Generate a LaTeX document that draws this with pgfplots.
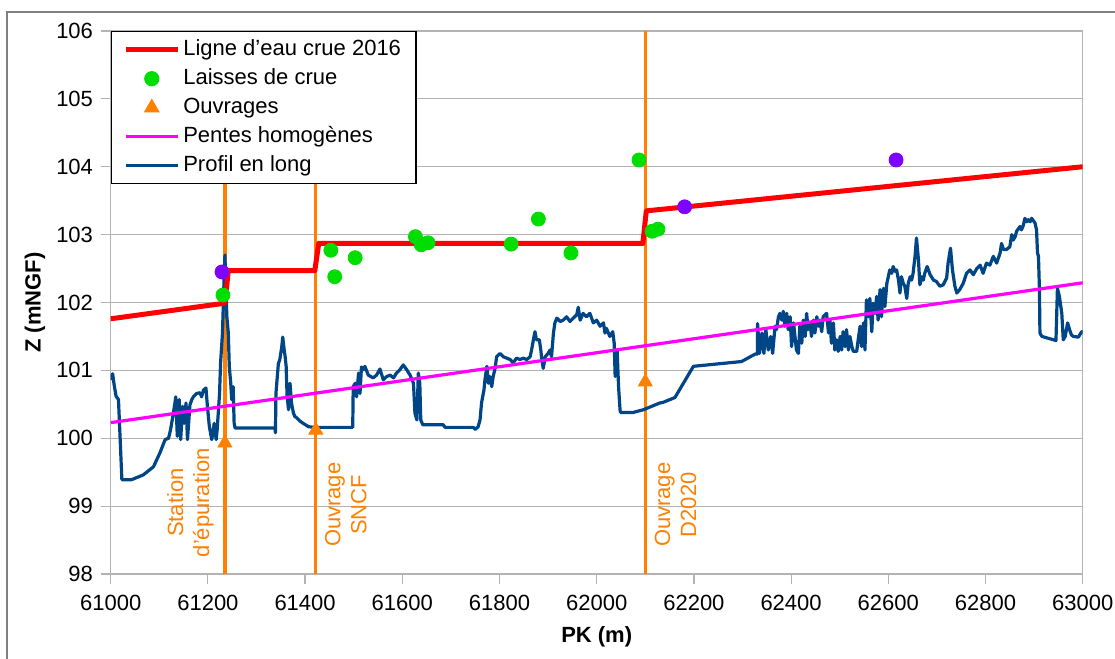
\documentclass[border=0pt]{standalone}
\usepackage{fontspec}
\setmainfont{Liberation Sans}
\usepackage{pgfplots}
\pgfplotsset{compat=1.18}
\definecolor{profil}{HTML}{004586}
\definecolor{ouvr}{HTML}{FF8000}
\definecolor{laisse}{HTML}{00DD00}
\definecolor{viol}{HTML}{7F00FF}
\definecolor{pente}{HTML}{FF00FF}
\definecolor{gridg}{HTML}{B3B3B3}
\definecolor{frameg}{HTML}{808080}
\begin{document}
\fontsize{11}{13}\selectfont
\begin{tikzpicture}[font=\fontsize{11}{13}\selectfont]
\path[use as bounding box] (-55.35pt,-42.5pt) rectangle (502.15pt,287pt);
\draw[frameg, line width=0.6pt] (-51.85pt,-60pt) -- (-51.85pt,281pt) -- (505pt,281pt);
\begin{axis}[
  at={(0,0)}, anchor=south west, scale only axis,
  width=486pt, height=271.5pt,
  xmin=61000, xmax=63000, ymin=98, ymax=106,
  xtick={61000,61200,61400,61600,61800,62000,62200,62400,62600,62800,63000},
  ytick={98,99,100,101,102,103,104,105,106},
  scaled x ticks=false, scaled y ticks=false,
  /pgf/number format/set thousands separator={},
  /pgf/number format/assume math mode=true,
  tick pos=left, tick align=outside, major tick length=5pt,
  tick style={gridg, line width=0.6pt},
  axis line style={gridg, line width=0.6pt},
  ymajorgrids, grid style={gridg, line width=0.6pt},
  xticklabel style={yshift=-1.5pt},
  xlabel={\bfseries PK (m)}, ylabel={\bfseries Z (mNGF)},
  xlabel style={at={(axis description cs:0.5,-0.116)}, anchor=center},
  ylabel style={at={(axis description cs:-0.078,0.5)}, anchor=center},
  legend cell align=left,
  legend image code/.code={\draw[mark repeat=2,mark phase=2,#1] plot coordinates {(0pt,0pt)(13pt,0pt)(26pt,0pt)};},
  legend style={at={(0,1)}, anchor=north west, draw=black, line width=0.6pt,
    inner xsep=6pt, inner ysep=2.3pt, row sep=1pt,
    nodes={inner sep=1.5pt, text height=8pt, text depth=2.5pt}},
]
\addlegendimage{red, line width=2.5pt}
\addlegendimage{laisse, only marks, mark=*, mark size=3.5pt}
\addlegendimage{ouvr, only marks, mark=triangle*, mark size=4pt}
\addlegendimage{pente, line width=1.6pt}
\addlegendimage{profil, line width=1.6pt}
\legend{Ligne d'eau crue 2016, Laisses de crue, Ouvrages, Pentes homogènes, Profil en long}

% vertical lines of ouvrages
\addplot[forget plot, ouvr, line width=1.6pt] coordinates {(61235,98) (61235,106)};
\addplot[forget plot, ouvr, line width=1.6pt] coordinates {(61422,98) (61422,106)};
\addplot[forget plot, ouvr, line width=1.6pt] coordinates {(62100,98) (62100,106)};

% profil en long
\addplot[forget plot, profil, line width=1.6pt, line join=round] coordinates {
(61000,100.86)(61004,100.95)(61007,100.79)(61011,100.62)(61016,100.57)(61023,99.39)(61043,99.39)(61067,99.46)(61088,99.58)(61101,99.78)(61112,99.98)(61119,100.00)(61123,100.12)(61129,100.37)(61134,100.61)(61137,100.03)(61141,100.57)(61144,99.98)(61148,100.47)(61151,100.22)(61155,100.52)(61158,99.98)(61163,100.49)(61167,100.57)(61170,100.61)(61177,100.66)(61184,100.67)(61187,100.61)(61191,100.71)(61196,100.74)(61199,100.47)(61203,100.17)(61208,99.98)(61213,100.22)(61217,99.98)(61219,100.12)(61224,100.66)(61226,101.10)(61230,101.55)(61233,102.28)(61235,102.70)(61239,101.79)(61242,101.55)(61244,101.06)(61247,100.81)(61249,100.57)(61252,100.76)(61254,100.22)(61256,100.15)(61338,100.15)(61339,100.08)(61340,100.66)(61345,101.10)(61348,101.16)(61352,101.35)(61354,101.49)(61357,101.30)(61359,101.20)(61361,101.06)(61363,100.61)(61366,100.42)(61369,100.81)(61372,100.52)(61376,100.37)(61379,100.32)(61383,100.30)(61390,100.25)(61396,100.22)(61407,100.17)(61420,100.16)(61498,100.16)
(61499,100.76)(61503,100.81)(61506,100.61)(61510,100.96)(61513,100.66)(61516,101.05)(61520,101.01)(61523,101.06)(61530,100.93)(61540,100.89)(61547,100.93)(61554,101.02)(61561,100.86)(61568,100.91)(61575,100.93)(61582,100.89)(61588,100.96)(61595,101.01)(61602,101.08)(61609,101.01)(61616,100.93)(61623,100.81)(61626,100.37)(61630,100.27)(61633,100.96)(61636,100.81)(61638,100.27)(61642,100.20)(61684,100.20)(61688,100.16)(61746,100.16)(61750,100.13)(61756,100.17)(61760,100.27)(61763,100.52)(61768,100.71)(61770,100.86)(61774,101.06)(61777,100.81)(61780,100.91)(61784,100.76)(61787,100.91)(61791,101.03)(61794,101.20)(61801,101.25)(61808,101.20)(61815,101.18)(61822,101.16)(61828,101.11)(61835,101.18)(61842,101.16)(61849,101.18)(61856,101.16)(61863,101.20)(61866,101.30)(61871,101.50)(61873,101.57)(61876,101.45)(61882,101.45)(61885,101.30)(61887,101.16)(61890,101.03)(61894,101.20)(61900,101.25)(61904,101.30)(61907,101.20)(61911,101.55)(61914,101.70)(61918,101.77)(61925,101.72)(61931,101.74)(61938,101.79)(61945,101.72)(61952,101.77)(61959,101.82)(61962,101.93)(61966,101.74)(61972,101.84)(61979,101.79)(61986,101.84)(61993,101.70)(62000,101.74)(62007,101.65)(62014,101.70)(62017,101.55)(62020,101.62)(62027,101.50)(62033,101.57)(62036,101.40)(62038,100.91)(62040,101.25)(62042,101.30)(62045,100.76)(62048,100.42)(62049,100.38)(62075,100.38)(62096,100.42)(62130,100.52)
(62137,100.53)(62161,100.60)(62199,101.06)(62298,101.13)(62326,101.24)(62331,101.24)(62331,101.69)(62335,101.25)(62340,101.55)(62344,101.25)(62348,101.60)(62353,101.30)(62358,101.50)(62362,101.25)(62367,101.65)(62370,101.60)(62374,101.79)(62377,101.84)(62381,101.74)(62384,101.87)(62387,101.65)(62391,101.84)(62394,101.60)(62398,101.79)(62401,101.35)(62405,101.70)(62408,101.50)(62411,101.30)(62415,101.25)(62418,101.65)(62422,101.40)(62425,101.74)(62429,101.50)(62432,101.84)(62435,101.60)(62439,101.70)(62442,101.50)(62446,101.74)(62449,101.55)(62453,101.79)(62456,101.65)
(62459,101.74)(62463,101.57)(62466,101.79)(62473,101.84)(62477,101.55)(62480,101.74)(62483,101.40)(62487,101.70)(62490,101.30)(62494,101.45)(62497,101.28)(62501,101.50)(62504,101.30)(62507,101.57)(62511,101.35)(62514,101.60)(62518,101.30)(62521,101.50)(62525,101.35)(62528,101.28)(62535,101.28)(62538,101.45)(62542,101.65)(62545,101.35)(62549,101.70)(62552,101.30)(62555,102.04)(62559,101.79)(62562,102.06)(62566,101.57)(62569,101.99)(62573,101.84)(62576,102.09)(62579,101.74)(62583,102.19)(62586,101.79)(62590,102.21)(62593,101.94)(62597,102.28)(62600,102.38)(62603,102.48)(62607,102.43)(62610,102.53)(62614,102.46)(62617,102.48)(62621,102.33)(62624,102.14)(62627,102.38)(62631,102.28)(62634,102.24)(62638,102.06)(62641,102.28)(62645,102.38)(62648,102.33)(62651,102.43)(62655,102.68)(62658,102.95)(62662,102.63)(62665,102.26)(62669,102.38)(62672,102.33)(62675,102.43)(62680,102.53)(62686,102.41)(62693,102.33)(62699,102.31)(62706,102.24)(62713,102.26)(62720,102.36)(62723,102.58)(62728,102.80)(62732,102.48)(62737,102.24)(62741,102.14)(62747,102.19)(62754,102.28)(62761,102.43)(62768,102.48)(62775,102.41)(62782,102.50)(62789,102.55)(62795,102.43)(62802,102.58)(62809,102.55)(62816,102.68)(62823,102.58)(62830,102.73)(62833,102.87)(62837,102.78)(62843,102.78)(62850,102.82)(62854,103.00)(62857,102.92)(62861,102.97)(62864,103.05)(62871,103.12)(62874,103.07)(62878,103.14)(62881,103.24)(62885,103.19)(62888,103.22)(62892,103.19)(62895,103.24)(62902,103.17)(62905,103.07)(62907,102.73)(62909,102.68)(62911,102.19)(62912,101.55)(62916,101.50)(62945,101.44)(62948,102.21)(62952,102.09)(62957,101.84)(62960,101.45)(62964,101.50)(62969,101.70)(62973,101.60)(62977,101.52)(62981,101.50)(62991,101.49)(62998,101.57)(63000,101.57)
};

% pentes homogenes
\addplot[forget plot, pente, line width=1.6pt] coordinates {(61000,100.23) (63000,102.29)};

% ligne d'eau
\addplot[forget plot, red, line width=2.5pt, line join=round] coordinates {
(61000,101.76) (61235,101.99) (61242,102.47) (61420,102.47) (61428,102.87) (62095,102.87) (62102,103.35) (63000,104.00)};

% laisses de crue
\addplot[forget plot, laisse, only marks, mark=*, mark size=3.5pt] coordinates {
(61231,102.11) (61453,102.77) (61461,102.38) (61503,102.66) (61627,102.97) (61639,102.85) (61653,102.88) (61824,102.86) (61880,103.23) (61947,102.73) (62087,104.10) (62114,103.05) (62126,103.08)};

% autres points (violet)
\addplot[forget plot, viol, only marks, mark=*, mark size=3.5pt] coordinates {
(61229,102.45) (62181,103.41) (62616,104.10)};

% ouvrages
\addplot[forget plot, ouvr, only marks, mark=triangle*, mark size=4pt] coordinates {
(61235,99.93) (61422,100.12) (62100,100.83)};

\node[rotate=90, align=center, text=ouvr] at (axis cs:61164,99.05) {Station\\d'épuration};
\node[rotate=90, align=center, text=ouvr] at (axis cs:61484,99.02) {Ouvrage\\SNCF};
\node[rotate=90, align=center, text=ouvr] at (axis cs:62162,99.02) {Ouvrage\\D2020};
\end{axis}
\end{tikzpicture}
\end{document}
